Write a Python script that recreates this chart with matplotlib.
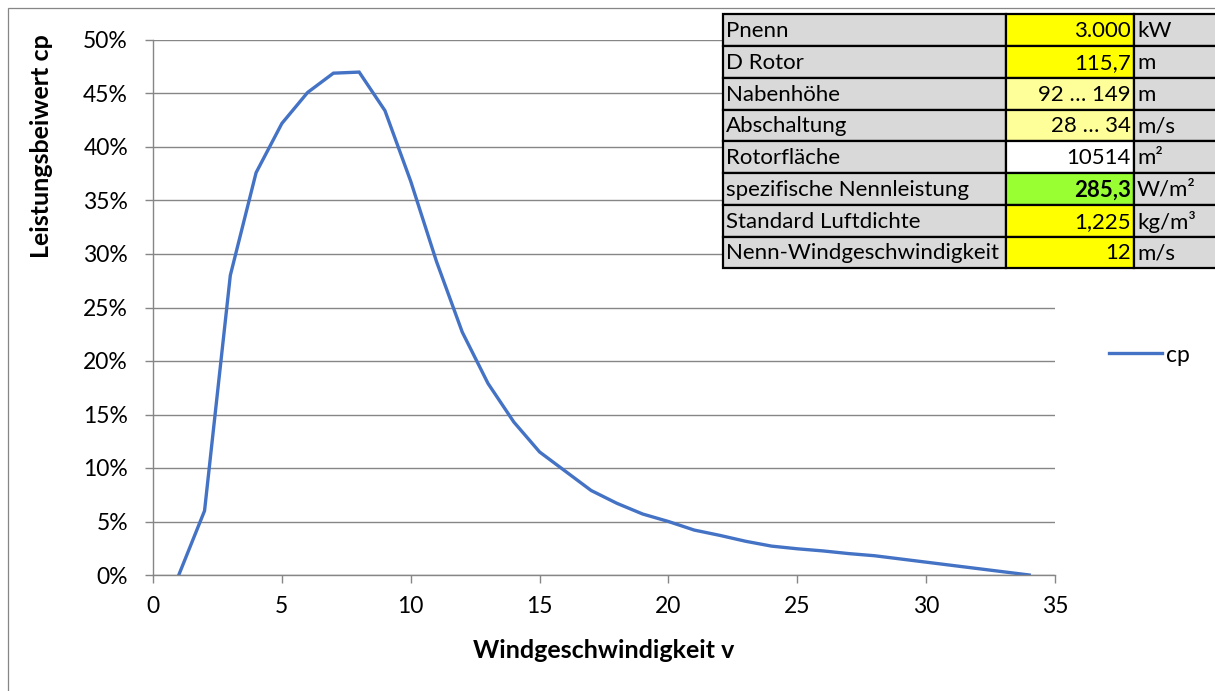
import matplotlib.pyplot as plt
from matplotlib.patches import Rectangle
from matplotlib.ticker import FuncFormatter

# Leistungsbeiwert cp (%) je Windgeschwindigkeit (m/s)
wind = list(range(1, 35))
cp = [0.0, 6.0, 28.0, 37.6, 42.2, 45.1, 46.9, 47.0, 43.4, 36.8,
      29.3, 22.7, 17.9, 14.3, 11.5, 9.7, 7.9, 6.7, 5.7, 5.0,
      4.2, 3.7, 3.15, 2.7, 2.45, 2.25, 2.0, 1.8, 1.5, 1.2,
      0.9, 0.6, 0.3, 0.0]

# Kenndaten-Tabelle
labels = ["Pnenn", "D Rotor", "Nabenhöhe", "Abschaltung", "Rotorfläche",
          "spezifische Nennleistung", "Standard Luftdichte", "Nenn-Windgeschwindigkeit"]
values = ["3.000", "115,7", "92 … 149", "28 … 34", "10514", "285,3", "1,225", "12"]
units = ["kW", "m", "m", "m/s", "m²", "W/m²", "kg/m³", "m/s"]

value_colors = ["#FFFF00", "#FFFF00", "#FFFF99", "#FFFF99", "#FFFFFF",
                "#99FF33", "#FFFF00", "#FFFF00"]

plt.rcParams['font.family'] = ['Lato', 'DejaVu Sans']

W, H = 1215, 691
fig = plt.figure(figsize=(W / 100, H / 100), dpi=100)


def fx(x):
    return x / W


def fy(y):
    return 1 - y / H


grid_col = "#868686"
tick_fs = 16.5
label_fs = 18
table_fs = 16

# chart border
fig.patches.append(Rectangle((fx(8), fy(700)), fx(1220) - fx(8), fy(8) - fy(700),
                             transform=fig.transFigure, fill=False,
                             edgecolor=grid_col, lw=0.9))

ax = fig.add_axes([fx(153), fy(575), fx(1055) - fx(153), fy(40) - fy(575)])
ax.plot(wind, cp, color="#4472C4", lw=2.4, label="cp", solid_joinstyle="miter")
ax.set_xlim(0, 35)
ax.set_ylim(0, 50)
ax.set_xticks(range(0, 36, 5))
ax.set_yticks(range(0, 51, 5))
ax.yaxis.set_major_formatter(FuncFormatter(lambda v, p: f"{v:.0f}%"))
ax.grid(axis="y", color=grid_col, lw=1.0)
ax.set_axisbelow(True)
for s in ["top", "right"]:
    ax.spines[s].set_visible(False)
for s in ["left", "bottom"]:
    ax.spines[s].set_color(grid_col)
    ax.spines[s].set_linewidth(1.0)
ax.tick_params(axis="both", colors=grid_col, labelcolor="black",
               labelsize=tick_fs, length=6, width=1.0, direction="out")
ax.tick_params(axis="y", pad=12)
ax.tick_params(axis="x", pad=9)

fig.text(fx(604), fy(651), "Windgeschwindigkeit v", fontsize=label_fs,
         fontweight="bold", ha="center", va="center")
fig.text(fx(42), fy(146), "Leistungsbeiwert cp", rotation=90, fontsize=label_fs,
         fontweight="bold", ha="center", va="center")

fig.legend(loc="center left", bbox_to_anchor=(fx(1088), fy(355)), frameon=False,
           fontsize=tick_fs, handlelength=2.35, handletextpad=0.15)

# table overlay
col_x = [723, 1006, 1134, 1230]
row_y = [14, 46, 78, 110, 141, 173, 205, 237, 268]
for i in range(len(labels)):
    y0, y1 = row_y[i], row_y[i + 1]
    fills = ["#D9D9D9", value_colors[i], "#D9D9D9"]
    for j in range(3):
        fig.patches.append(Rectangle((fx(col_x[j]), fy(y1)), fx(col_x[j + 1]) - fx(col_x[j]),
                                     fy(y0) - fy(y1), transform=fig.transFigure,
                                     facecolor=fills[j], edgecolor="black", lw=1.6, zorder=5))
    yc = fy((y0 + y1) / 2 + 1)
    fig.text(fx(col_x[0] + 3), yc, labels[i], fontsize=table_fs, ha="left", va="center", zorder=6)
    fig.text(fx(col_x[2] - 3), yc, values[i], fontsize=table_fs, ha="right", va="center", zorder=6,
             fontweight="bold" if i == 5 else "normal")
    fig.text(fx(col_x[2] + 3), yc, units[i], fontsize=table_fs, ha="left", va="center", zorder=6)

fig.savefig("out.png", dpi=100)
